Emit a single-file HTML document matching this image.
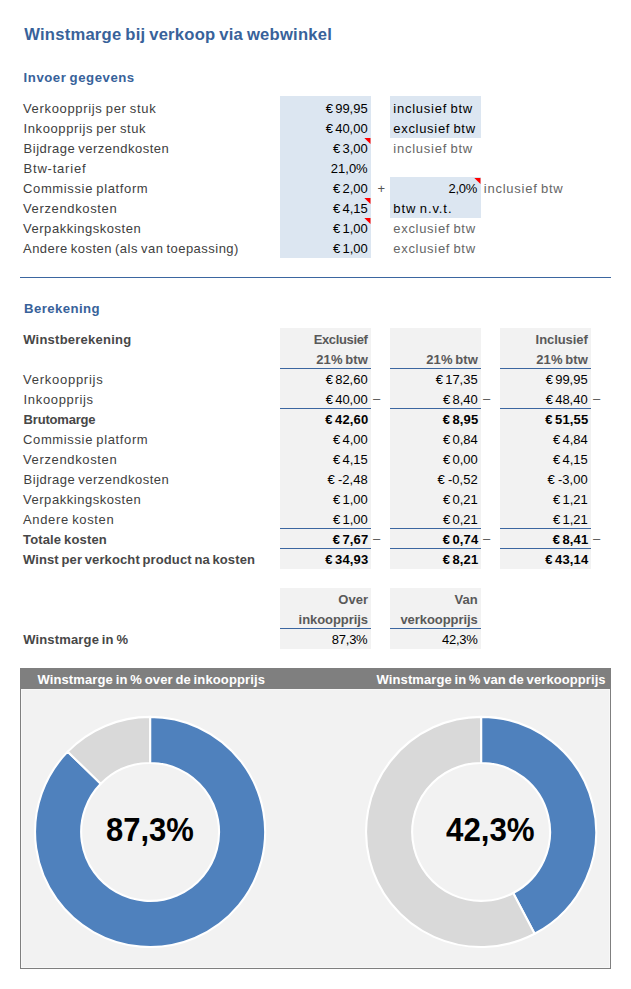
<!DOCTYPE html>
<html lang="nl"><head><meta charset="utf-8"><title>Winstmarge bij verkoop via webwinkel</title>
<style>
html,body{margin:0;padding:0;background:#fff}
body{width:631px;height:989px;position:relative;overflow:hidden;font-family:"Liberation Sans",sans-serif}
#s>div,#s>svg,#s>span{position:absolute}
.t{white-space:pre;line-height:20px;font-family:"Liberation Sans",sans-serif;font-weight:400}
.b{font-weight:700}
</style></head><body><div id="s">
<div style="left:280px;top:96px;width:91px;height:162px;background:#DCE6F1"></div>
<div style="left:390px;top:96px;width:91px;height:42px;background:#DCE6F1"></div>
<div style="left:390px;top:177px;width:91px;height:41px;background:#DCE6F1"></div>
<div style="left:20px;top:277px;width:591px;height:1px;background:#3B66A0"></div>
<div style="left:280px;top:328px;width:91px;height:241px;background:#F2F2F2"></div>
<div style="left:280px;top:368px;width:91px;height:1px;background:#3B66A0"></div>
<div style="left:280px;top:408px;width:91px;height:1px;background:#3B66A0"></div>
<div style="left:280px;top:528px;width:91px;height:1px;background:#3B66A0"></div>
<div style="left:280px;top:548px;width:91px;height:1px;background:#3B66A0"></div>
<div style="left:390px;top:328px;width:91px;height:241px;background:#F2F2F2"></div>
<div style="left:390px;top:368px;width:91px;height:1px;background:#3B66A0"></div>
<div style="left:390px;top:408px;width:91px;height:1px;background:#3B66A0"></div>
<div style="left:390px;top:528px;width:91px;height:1px;background:#3B66A0"></div>
<div style="left:390px;top:548px;width:91px;height:1px;background:#3B66A0"></div>
<div style="left:500px;top:328px;width:91px;height:241px;background:#F2F2F2"></div>
<div style="left:500px;top:368px;width:91px;height:1px;background:#3B66A0"></div>
<div style="left:500px;top:408px;width:91px;height:1px;background:#3B66A0"></div>
<div style="left:500px;top:528px;width:91px;height:1px;background:#3B66A0"></div>
<div style="left:500px;top:548px;width:91px;height:1px;background:#3B66A0"></div>
<div style="left:280px;top:588px;width:91px;height:61px;background:#F2F2F2"></div>
<div style="left:280px;top:628px;width:91px;height:1px;background:#3B66A0"></div>
<div style="left:390px;top:588px;width:91px;height:61px;background:#F2F2F2"></div>
<div style="left:390px;top:628px;width:91px;height:1px;background:#3B66A0"></div>
<svg style="left:364px;top:138px" width="7" height="7" viewBox="0 0 7 7"><path d="M0.2999999999999998 0H6.5V6.0Z" fill="#FF0000"/></svg>
<svg style="left:364px;top:198px" width="7" height="7" viewBox="0 0 7 7"><path d="M0.2999999999999998 0H6.5V6.0Z" fill="#FF0000"/></svg>
<svg style="left:364px;top:218px" width="7" height="7" viewBox="0 0 7 7"><path d="M0.2999999999999998 0H6.5V6.0Z" fill="#FF0000"/></svg>
<svg style="left:474px;top:178px" width="7" height="7" viewBox="0 0 7 7"><path d="M0.2999999999999998 0H6.5V6.0Z" fill="#FF0000"/></svg>
<svg style="left:0;top:0" width="631" height="989" viewBox="0 0 631 989"><rect x="20.5" y="668.5" width="590" height="300" fill="#F2F2F2" stroke="#7F7F7F" stroke-width="1"/><rect x="21.5" y="689.5" width="588" height="278" fill="none" stroke="#F8F8F8" stroke-width="1"/><rect x="20" y="668" width="591" height="21" fill="#7F7F7F"/><path d="M150.10 716.90A115.05 115.05 0 1 1 67.73 751.63L100.74 783.81A68.95 68.95 0 1 0 150.10 763.00Z" fill="#4F81BD" stroke="#ffffff" stroke-width="2.1" stroke-linejoin="round"/><path d="M67.73 751.63A115.05 115.05 0 0 1 150.10 716.90L150.10 763.00A68.95 68.95 0 0 0 100.74 783.81Z" fill="#D9D9D9" stroke="#ffffff" stroke-width="2.1" stroke-linejoin="round"/><path d="M481.10 716.90A115.05 115.05 0 0 1 534.62 933.80L513.17 892.99A68.95 68.95 0 0 0 481.10 763.00Z" fill="#4F81BD" stroke="#ffffff" stroke-width="2.1" stroke-linejoin="round"/><path d="M534.62 933.80A115.05 115.05 0 1 1 481.10 716.90L481.10 763.00A68.95 68.95 0 1 0 513.17 892.99Z" fill="#D9D9D9" stroke="#ffffff" stroke-width="2.1" stroke-linejoin="round"/></svg>
<span class="t b" style="left:24.20px;top:25.05px;font-size:16.6px;color:#38629A;letter-spacing:0.240px;word-spacing:-1.00px">Winstmarge bij verkoop via webwinkel</span>
<span class="t b" style="left:23.60px;top:68.13px;font-size:13.2px;color:#38629A;letter-spacing:0.538px;word-spacing:-1.00px">Invoer gegevens</span>
<span class="t b" style="left:24.10px;top:298.63px;font-size:13.2px;color:#38629A;letter-spacing:0.410px;word-spacing:0.00px">Berekening</span>
<span class="t" style="left:23.00px;top:98.50px;font-size:13.0px;color:#404040;letter-spacing:0.663px;word-spacing:-1.00px">Verkoopprijs per stuk</span>
<span class="t" style="left:325.82px;top:98.50px;font-size:13.0px;color:#000000;letter-spacing:0.000px;word-spacing:-1.50px">€ 99,95</span>
<span class="t" style="left:23.60px;top:118.50px;font-size:13.0px;color:#404040;letter-spacing:0.594px;word-spacing:-1.00px">Inkoopprijs per stuk</span>
<span class="t" style="left:325.82px;top:118.50px;font-size:13.0px;color:#000000;letter-spacing:0.000px;word-spacing:-1.50px">€ 40,00</span>
<span class="t" style="left:23.60px;top:138.50px;font-size:13.0px;color:#404040;letter-spacing:0.492px;word-spacing:-1.00px">Bijdrage verzendkosten</span>
<span class="t" style="left:333.07px;top:138.50px;font-size:13.0px;color:#000000;letter-spacing:0.000px;word-spacing:-1.50px">€ 3,00</span>
<span class="t" style="left:23.60px;top:158.50px;font-size:13.0px;color:#404040;letter-spacing:0.778px;word-spacing:0.00px">Btw-tarief</span>
<span class="t" style="left:330.82px;top:158.50px;font-size:13.0px;color:#000000;letter-spacing:0.000px;word-spacing:0.00px">21,0%</span>
<span class="t" style="left:23.00px;top:178.50px;font-size:13.0px;color:#404040;letter-spacing:0.637px;word-spacing:-1.00px">Commissie platform</span>
<span class="t" style="left:333.07px;top:178.50px;font-size:13.0px;color:#000000;letter-spacing:0.000px;word-spacing:-1.50px">€ 2,00</span>
<span class="t" style="left:23.00px;top:198.50px;font-size:13.0px;color:#404040;letter-spacing:0.642px;word-spacing:0.00px">Verzendkosten</span>
<span class="t" style="left:333.07px;top:198.50px;font-size:13.0px;color:#000000;letter-spacing:0.000px;word-spacing:-1.50px">€ 4,15</span>
<span class="t" style="left:23.00px;top:218.50px;font-size:13.0px;color:#404040;letter-spacing:0.536px;word-spacing:0.00px">Verpakkingskosten</span>
<span class="t" style="left:333.07px;top:218.50px;font-size:13.0px;color:#000000;letter-spacing:0.000px;word-spacing:-1.50px">€ 1,00</span>
<span class="t" style="left:23.00px;top:238.50px;font-size:13.0px;color:#404040;letter-spacing:0.472px;word-spacing:-1.00px">Andere kosten (als van toepassing)</span>
<span class="t" style="left:333.07px;top:238.50px;font-size:13.0px;color:#000000;letter-spacing:0.000px;word-spacing:-1.50px">€ 1,00</span>
<span class="t" style="left:393.30px;top:98.50px;font-size:13.0px;color:#000000;letter-spacing:0.752px;word-spacing:-1.00px">inclusief btw</span>
<span class="t" style="left:393.30px;top:118.50px;font-size:13.0px;color:#000000;letter-spacing:0.692px;word-spacing:-1.00px">exclusief btw</span>
<span class="t" style="left:393.30px;top:138.50px;font-size:13.0px;color:#666666;letter-spacing:0.752px;word-spacing:-1.00px">inclusief btw</span>
<span class="t" style="left:377.60px;top:178.50px;font-size:13.0px;color:#555555;letter-spacing:-1.363px;word-spacing:0.00px">+</span>
<span class="t" style="left:448.52px;top:178.50px;font-size:13.0px;color:#000000;letter-spacing:-0.250px;word-spacing:0.00px">2,0%</span>
<span class="t" style="left:483.80px;top:178.50px;font-size:13.0px;color:#666666;letter-spacing:0.752px;word-spacing:-1.00px">inclusief btw</span>
<span class="t" style="left:393.30px;top:198.50px;font-size:13.0px;color:#000000;letter-spacing:0.904px;word-spacing:-1.00px">btw n.v.t.</span>
<span class="t" style="left:393.30px;top:218.50px;font-size:13.0px;color:#666666;letter-spacing:0.692px;word-spacing:-1.00px">exclusief btw</span>
<span class="t" style="left:393.30px;top:238.50px;font-size:13.0px;color:#666666;letter-spacing:0.692px;word-spacing:-1.00px">exclusief btw</span>
<span class="t b" style="left:23.20px;top:329.50px;font-size:13.0px;color:#474747;letter-spacing:0.241px;word-spacing:0.00px">Winstberekening</span>
<span class="t b" style="left:313.70px;top:329.50px;font-size:13.0px;color:#595959;letter-spacing:-0.366px;word-spacing:0.00px">Exclusief</span>
<span class="t b" style="left:535.60px;top:329.50px;font-size:13.0px;color:#595959;letter-spacing:-0.064px;word-spacing:0.00px">Inclusief</span>
<span class="t b" style="left:316.30px;top:349.50px;font-size:13.0px;color:#595959;letter-spacing:0.090px;word-spacing:-1.00px">21% btw</span>
<span class="t b" style="left:426.30px;top:349.50px;font-size:13.0px;color:#595959;letter-spacing:0.090px;word-spacing:-1.00px">21% btw</span>
<span class="t b" style="left:536.30px;top:349.50px;font-size:13.0px;color:#595959;letter-spacing:0.090px;word-spacing:-1.00px">21% btw</span>
<span class="t" style="left:23.00px;top:369.50px;font-size:13.0px;color:#404040;letter-spacing:0.740px;word-spacing:0.00px">Verkoopprijs</span>
<span class="t" style="left:325.82px;top:369.50px;font-size:13.0px;color:#000000;letter-spacing:0.000px;word-spacing:-1.50px">€ 82,60</span>
<span class="t" style="left:435.82px;top:369.50px;font-size:13.0px;color:#000000;letter-spacing:0.000px;word-spacing:-1.50px">€ 17,35</span>
<span class="t" style="left:545.82px;top:369.50px;font-size:13.0px;color:#000000;letter-spacing:0.000px;word-spacing:-1.50px">€ 99,95</span>
<span class="t" style="left:23.60px;top:389.50px;font-size:13.0px;color:#404040;letter-spacing:0.662px;word-spacing:0.00px">Inkoopprijs</span>
<span class="t" style="left:325.82px;top:389.50px;font-size:13.0px;color:#000000;letter-spacing:0.000px;word-spacing:-1.50px">€ 40,00</span>
<span class="t" style="left:373.10px;top:388.50px;font-size:13.0px;color:#555555;letter-spacing:-0.050px;word-spacing:0.00px">–</span>
<span class="t" style="left:443.07px;top:389.50px;font-size:13.0px;color:#000000;letter-spacing:0.000px;word-spacing:-1.50px">€ 8,40</span>
<span class="t" style="left:483.10px;top:388.50px;font-size:13.0px;color:#555555;letter-spacing:-0.050px;word-spacing:0.00px">–</span>
<span class="t" style="left:545.82px;top:389.50px;font-size:13.0px;color:#000000;letter-spacing:0.000px;word-spacing:-1.50px">€ 48,40</span>
<span class="t" style="left:593.10px;top:388.50px;font-size:13.0px;color:#555555;letter-spacing:-0.050px;word-spacing:0.00px">–</span>
<span class="t b" style="left:23.60px;top:409.50px;font-size:13.0px;color:#474747;letter-spacing:-0.188px;word-spacing:0.00px">Brutomarge</span>
<span class="t b" style="left:325.31px;top:409.50px;font-size:13.0px;color:#000000;letter-spacing:0.170px;word-spacing:-1.50px">€ 42,60</span>
<span class="t b" style="left:442.72px;top:409.50px;font-size:13.0px;color:#000000;letter-spacing:0.170px;word-spacing:-1.50px">€ 8,95</span>
<span class="t b" style="left:545.30px;top:409.50px;font-size:13.0px;color:#000000;letter-spacing:0.170px;word-spacing:-1.50px">€ 51,55</span>
<span class="t" style="left:23.00px;top:429.50px;font-size:13.0px;color:#404040;letter-spacing:0.637px;word-spacing:-1.00px">Commissie platform</span>
<span class="t" style="left:333.07px;top:429.50px;font-size:13.0px;color:#000000;letter-spacing:0.000px;word-spacing:-1.50px">€ 4,00</span>
<span class="t" style="left:443.07px;top:429.50px;font-size:13.0px;color:#000000;letter-spacing:0.000px;word-spacing:-1.50px">€ 0,84</span>
<span class="t" style="left:553.07px;top:429.50px;font-size:13.0px;color:#000000;letter-spacing:0.000px;word-spacing:-1.50px">€ 4,84</span>
<span class="t" style="left:23.00px;top:449.50px;font-size:13.0px;color:#404040;letter-spacing:0.642px;word-spacing:0.00px">Verzendkosten</span>
<span class="t" style="left:333.07px;top:449.50px;font-size:13.0px;color:#000000;letter-spacing:0.000px;word-spacing:-1.50px">€ 4,15</span>
<span class="t" style="left:443.07px;top:449.50px;font-size:13.0px;color:#000000;letter-spacing:0.000px;word-spacing:-1.50px">€ 0,00</span>
<span class="t" style="left:553.07px;top:449.50px;font-size:13.0px;color:#000000;letter-spacing:0.000px;word-spacing:-1.50px">€ 4,15</span>
<span class="t" style="left:23.60px;top:469.50px;font-size:13.0px;color:#404040;letter-spacing:0.492px;word-spacing:-1.00px">Bijdrage verzendkosten</span>
<span class="t" style="left:327.60px;top:469.50px;font-size:13.0px;color:#000000;letter-spacing:0.000px;word-spacing:-0.40px">€ -2,48</span>
<span class="t" style="left:437.60px;top:469.50px;font-size:13.0px;color:#000000;letter-spacing:0.000px;word-spacing:-0.40px">€ -0,52</span>
<span class="t" style="left:547.60px;top:469.50px;font-size:13.0px;color:#000000;letter-spacing:0.000px;word-spacing:-0.40px">€ -3,00</span>
<span class="t" style="left:23.00px;top:489.50px;font-size:13.0px;color:#404040;letter-spacing:0.536px;word-spacing:0.00px">Verpakkingskosten</span>
<span class="t" style="left:333.07px;top:489.50px;font-size:13.0px;color:#000000;letter-spacing:0.000px;word-spacing:-1.50px">€ 1,00</span>
<span class="t" style="left:443.07px;top:489.50px;font-size:13.0px;color:#000000;letter-spacing:0.000px;word-spacing:-1.50px">€ 0,21</span>
<span class="t" style="left:553.07px;top:489.50px;font-size:13.0px;color:#000000;letter-spacing:0.000px;word-spacing:-1.50px">€ 1,21</span>
<span class="t" style="left:23.00px;top:509.50px;font-size:13.0px;color:#404040;letter-spacing:0.657px;word-spacing:-1.00px">Andere kosten</span>
<span class="t" style="left:333.07px;top:509.50px;font-size:13.0px;color:#000000;letter-spacing:0.000px;word-spacing:-1.50px">€ 1,00</span>
<span class="t" style="left:443.07px;top:509.50px;font-size:13.0px;color:#000000;letter-spacing:0.000px;word-spacing:-1.50px">€ 0,21</span>
<span class="t" style="left:553.07px;top:509.50px;font-size:13.0px;color:#000000;letter-spacing:0.000px;word-spacing:-1.50px">€ 1,21</span>
<span class="t b" style="left:23.00px;top:529.50px;font-size:13.0px;color:#474747;letter-spacing:0.157px;word-spacing:-1.00px">Totale kosten</span>
<span class="t b" style="left:332.72px;top:529.50px;font-size:13.0px;color:#000000;letter-spacing:0.170px;word-spacing:-1.50px">€ 7,67</span>
<span class="t" style="left:373.10px;top:528.50px;font-size:13.0px;color:#555555;letter-spacing:-0.050px;word-spacing:0.00px">–</span>
<span class="t b" style="left:442.72px;top:529.50px;font-size:13.0px;color:#000000;letter-spacing:0.170px;word-spacing:-1.50px">€ 0,74</span>
<span class="t" style="left:483.10px;top:528.50px;font-size:13.0px;color:#555555;letter-spacing:-0.050px;word-spacing:0.00px">–</span>
<span class="t b" style="left:552.72px;top:529.50px;font-size:13.0px;color:#000000;letter-spacing:0.170px;word-spacing:-1.50px">€ 8,41</span>
<span class="t" style="left:593.10px;top:528.50px;font-size:13.0px;color:#555555;letter-spacing:-0.050px;word-spacing:0.00px">–</span>
<span class="t b" style="left:23.00px;top:549.50px;font-size:13.0px;color:#474747;letter-spacing:0.106px;word-spacing:-1.00px">Winst per verkocht product na kosten</span>
<span class="t b" style="left:325.31px;top:549.50px;font-size:13.0px;color:#000000;letter-spacing:0.170px;word-spacing:-1.50px">€ 34,93</span>
<span class="t b" style="left:442.72px;top:549.50px;font-size:13.0px;color:#000000;letter-spacing:0.170px;word-spacing:-1.50px">€ 8,21</span>
<span class="t b" style="left:545.30px;top:549.50px;font-size:13.0px;color:#000000;letter-spacing:0.170px;word-spacing:-1.50px">€ 43,14</span>
<span class="t b" style="left:338.30px;top:589.50px;font-size:13.0px;color:#595959;letter-spacing:0.025px;word-spacing:0.00px">Over</span>
<span class="t b" style="left:298.60px;top:609.50px;font-size:13.0px;color:#595959;letter-spacing:-0.066px;word-spacing:0.00px">inkoopprijs</span>
<span class="t b" style="left:454.40px;top:589.50px;font-size:13.0px;color:#595959;letter-spacing:0.138px;word-spacing:0.00px">Van</span>
<span class="t b" style="left:400.40px;top:609.50px;font-size:13.0px;color:#595959;letter-spacing:-0.060px;word-spacing:0.00px">verkoopprijs</span>
<span class="t b" style="left:23.20px;top:629.50px;font-size:13.0px;color:#474747;letter-spacing:0.155px;word-spacing:-1.00px">Winstmarge in %</span>
<span class="t" style="left:331.82px;top:629.50px;font-size:13.0px;color:#000000;letter-spacing:-0.250px;word-spacing:0.00px">87,3%</span>
<span class="t" style="left:441.93px;top:629.50px;font-size:13.0px;color:#000000;letter-spacing:-0.250px;word-spacing:0.00px">42,3%</span>
<span class="t b" style="left:37.40px;top:670.30px;font-size:13.0px;color:#ffffff;letter-spacing:0.130px;word-spacing:-1.00px">Winstmarge in % over de inkoopprijs</span>
<span class="t b" style="left:376.60px;top:670.30px;font-size:13.0px;color:#ffffff;letter-spacing:0.086px;word-spacing:-1.00px">Winstmarge in % van de verkoopprijs</span>
<span class="t b" style="left:106.10px;top:810.14px;font-size:32.5px;line-height:40px;color:#000;transform:scaleX(0.9531);transform-origin:0 0">87,3%</span>
<span class="t b" style="left:445.80px;top:810.14px;font-size:32.5px;line-height:40px;color:#000;transform:scaleX(0.9617);transform-origin:0 0">42,3%</span>
</div></body></html>
